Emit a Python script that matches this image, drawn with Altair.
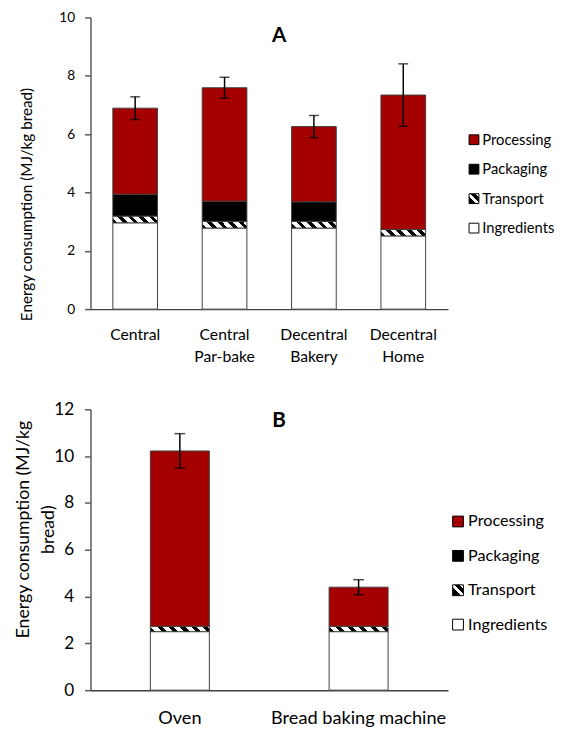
import altair as alt
import pandas as pd

# ---------------- data ----------------
COMPONENTS = ["Processing", "Packaging", "Transport", "Ingredients"]  # legend order (top to bottom)
STACK_ORDER = {"Ingredients": 0, "Transport": 1, "Packaging": 2, "Processing": 3}

A_categories = ["Central", "Central Par-bake", "Decentral Bakery", "Decentral Home"]
A_ingredients = [2.96, 2.78, 2.78, 2.51]
A_transport = [0.23, 0.23, 0.23, 0.22]
A_packaging = [0.75, 0.69, 0.67, 0.0]
A_processing = [2.95, 3.89, 2.58, 4.61]
A_error = [0.39, 0.36, 0.38, 1.07]

B_categories = ["Oven", "Bread baking machine"]
B_ingredients = [2.50, 2.50]
B_transport = [0.23, 0.23]
B_packaging = [0.0, 0.0]
B_processing = [7.49, 1.67]
B_error = [0.74, 0.32]

FONT = "Lato"
RED = "#a50000"


def stripes(n_periods, x1, y1, x2, y2, black_frac=0.5):
    stops = []
    for k in range(n_periods):
        a = k / n_periods
        b = (k + black_frac) / n_periods
        c = (k + 1) / n_periods
        stops += [
            {"offset": a, "color": "black"},
            {"offset": b, "color": "black"},
            {"offset": b, "color": "white"},
            {"offset": c, "color": "white"},
        ]
    return {"gradient": "linear", "x1": x1, "y1": y1, "x2": x2, "y2": y2, "stops": stops}


LEGEND_STRIPE_EXPR = (
    "{gradient: 'linear', x1: 0, y1: 1, x2: 1, y2: 0, stops: ["
    "{offset: 0, color: 'black'}, {offset: 0.38, color: 'black'},"
    "{offset: 0.38, color: 'white'}, {offset: 0.56, color: 'white'},"
    "{offset: 0.56, color: 'black'}, {offset: 0.82, color: 'black'},"
    "{offset: 0.82, color: 'white'}, {offset: 1, color: 'white'}]}"
)


def build_frames(cats, ingr, trans, pack, proc, err):
    rows = []
    tot = []
    for i, c in enumerate(cats):
        vals = {"Ingredients": ingr[i], "Transport": trans[i], "Packaging": pack[i], "Processing": proc[i]}
        for comp, v in vals.items():
            if v > 0:
                rows.append({"cat": c, "comp": comp, "value": v, "ord": STACK_ORDER[comp]})
        t = sum(vals.values())
        tot.append({"cat": c, "lo": t - err[i], "hi": t + err[i]})
    return pd.DataFrame(rows), pd.DataFrame(tot)


def panel(cats, frames, *, ymax, ystep, ytitle, pad_inner, pad_outer,
          fs_tick, fs_xlab, fs_title, fs_leg, title_y, title_pad, tick_label_pad, legend_x, legend_y,
          row_pad, sym_size, label_offset, grad, label_expr, label_pad, cap):
    df, tot = frames
    xscale = alt.Scale(paddingInner=pad_inner, paddingOuter=pad_outer)
    xaxis = alt.Axis(title=None, labelAngle=0, ticks=False, labelFont=FONT, labelFontSize=fs_xlab,
                     labelColor="black", domainColor="#404040", domainWidth=1.5,
                     labelPadding=label_pad, labelLineHeight=fs_xlab + 6, labelExpr=label_expr,
                     labelLimit=400, labelOverlap=False)
    yaxis = alt.Axis(title=ytitle, values=list(range(0, ymax + 1, ystep)), grid=False, tickSize=6,
                     tickColor="#595959", domainColor="#595959", domainWidth=1.5, tickWidth=1.5,
                     labelFont=FONT, labelFontSize=fs_tick, labelColor="black",
                     labelPadding=tick_label_pad,
                     titleFont=FONT, titleFontSize=fs_title, titleFontWeight="normal",
                     titleColor="black", titleY=title_y, titlePadding=title_pad,
                     titleLineHeight=fs_title + 8)
    x = alt.X("cat:N", sort=cats, scale=xscale, axis=xaxis)
    yscale = alt.Scale(domain=[0, ymax], nice=False)

    fill = alt.when(alt.datum.comp == "Transport").then(alt.value(grad)).otherwise(
        alt.Fill("comp:N",
                 scale=alt.Scale(domain=COMPONENTS,
                                 range=[RED, "#000000", alt.ExprRef(expr=LEGEND_STRIPE_EXPR), "#ffffff"]),
                 legend=alt.Legend(orient="none", legendX=legend_x, legendY=legend_y, title=None,
                                   symbolType="square", symbolSize=sym_size, symbolStrokeColor="black",
                                   symbolStrokeWidth=1, labelFont=FONT, labelFontSize=fs_leg,
                                   labelColor="black", rowPadding=row_pad, labelOffset=label_offset))
    )
    bars = alt.Chart(df).mark_bar(stroke="#404040", strokeWidth=1).encode(
        x=x,
        y=alt.Y("value:Q", stack="zero", scale=yscale, axis=yaxis),
        fill=fill,
        order=alt.Order("ord:Q"),
    )
    rule = alt.Chart(tot).mark_rule(color="black", strokeWidth=1.5).encode(
        x=x, y=alt.Y("lo:Q", scale=yscale, axis=yaxis), y2="hi:Q")
    tick_lo = alt.Chart(tot).mark_tick(color="black", thickness=1.5, size=cap).encode(
        x=x, y=alt.Y("lo:Q", scale=yscale, axis=yaxis))
    tick_hi = alt.Chart(tot).mark_tick(color="black", thickness=1.5, size=cap).encode(
        x=x, y=alt.Y("hi:Q", scale=yscale, axis=yaxis))
    return alt.layer(bars, rule, tick_lo, tick_hi)


grad_A = stripes(5, 0, 1, 1.15, 0.833, 0.45)
grad_B = stripes(6, 0, 1, 1.15, 0.895, 0.45)

chartA = panel(
    A_categories,
    build_frames(A_categories, A_ingredients, A_transport, A_packaging, A_processing, A_error),
    ymax=10, ystep=2, ytitle="Energy consumption (MJ/kg bread)",
    pad_inner=0.5, pad_outer=0.25, fs_tick=14, fs_xlab=16, fs_title=15.5, fs_leg=15,
    title_y=190, title_pad=25, tick_label_pad=10, legend_x=383, legend_y=117, row_pad=14,
    sym_size=100, label_offset=1,
    grad=grad_A, label_expr="split(datum.label, ' ')", label_pad=18, cap=10,
).properties(width=364, height=297,
             title=alt.TitleParams("A", font=FONT, fontSize=21, fontWeight="bold", color="black",
                                   anchor="middle", dx=10, offset=-36))

chartB = panel(
    B_categories,
    build_frames(B_categories, B_ingredients, B_transport, B_packaging, B_processing, B_error),
    ymax=12, ystep=2, ytitle=["Energy consumption (MJ/kg", "bread)"],
    pad_inner=0.67, pad_outer=0.335, fs_tick=17.5, fs_xlab=18.5, fs_title=18, fs_leg=16.5,
    title_y=122, title_pad=-4, tick_label_pad=11, legend_x=366, legend_y=106, row_pad=18,
    sym_size=121, label_offset=2,
    grad=grad_B, label_expr="datum.label", label_pad=19, cap=11,
).properties(width=364, height=286,
             title=alt.TitleParams("B", font=FONT, fontSize=21, fontWeight="bold", color="black",
                                   anchor="middle", dx=10, offset=-31))

chart = alt.vconcat(chartA, chartB, spacing=37).resolve_scale(
    fill="independent", x="independent", y="independent"
).properties(
    padding={"left": 6, "top": -4, "right": 0, "bottom": 0}
).configure_view(stroke=None)

chart.save("out.html", embed_options={"renderer": "svg", "actions": False})
